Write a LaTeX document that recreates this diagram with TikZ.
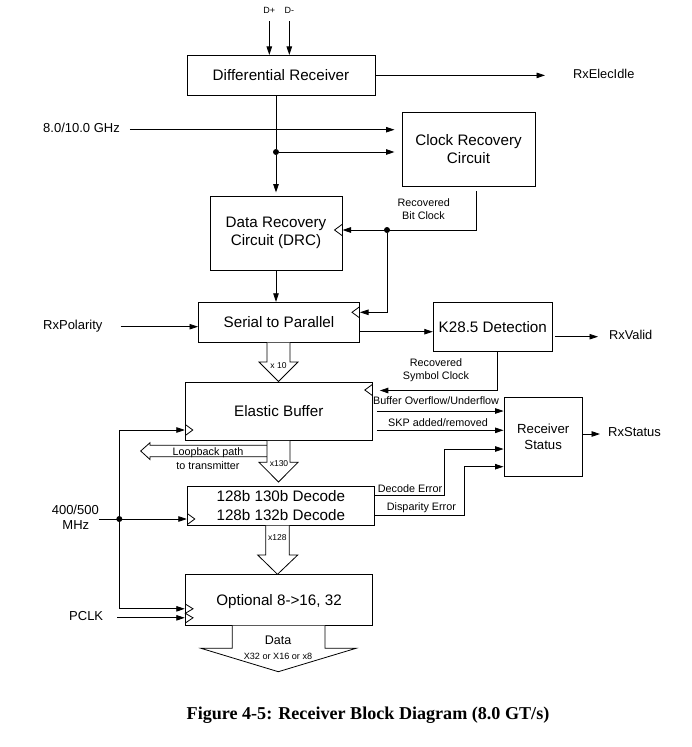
\documentclass[tikz,border=0pt]{standalone}
\usepackage{fontspec}
\setmainfont{Liberation Sans}
\newfontfamily\capfont{Liberation Serif}
\usetikzlibrary{arrows.meta,calc}
\begin{document}
\begin{tikzpicture}[x=1pt,y=-1pt,
  box/.style={draw, line width=1pt, inner sep=0pt, align=center, font=\fontsize{15.2}{18.3}\selectfont},
  conn/.style={line width=0.8pt, -{Triangle[length=8.5pt,width=5.5pt]}},
  wire/.style={line width=0.8pt},
  dotc/.style={circle, fill, inner sep=0pt, minimum size=6pt},
  lbl/.style={font=\fontsize{13}{15.5}\selectfont, inner sep=0pt},
  sml/.style={font=\fontsize{10.8}{13}\selectfont, inner sep=0pt},
  tny/.style={font=\fontsize{8.5}{10}\selectfont, inner sep=0pt},
  fat/.style={draw, line width=0.8pt, fill=white, line join=miter},
  clk/.style={line width=0.8pt},
]
\useasboundingbox (0,0) rectangle (692,747);

% boxes
\node[box, minimum width=188pt, minimum height=40pt] (dr) at (281,75.4) {Differential Receiver};
\node[box, minimum width=133pt, minimum height=74pt] (crc) at (468.5,149) {Clock Recovery\\Circuit};
\node[box, minimum width=132pt, minimum height=74pt] (drc) at (276,233) {Data Recovery\\Circuit (DRC)};
\node[box, minimum width=161pt, minimum height=40.4pt] (s2p) at (279,322.5) {Serial to Parallel};
\node[box, minimum width=119pt, minimum height=49pt] (k28) at (492.8,326.8) {K28.5 Detection};
\node[box, minimum width=187pt, minimum height=58pt] (eb) at (278.8,411.3) {Elastic Buffer};
\node[box, minimum width=78.3pt, minimum height=78.7pt, font=\fontsize{13.2}{16}\selectfont] (rs) at (543.2,436.7) {Receiver\\Status};
\node[box, minimum width=187pt, minimum height=39pt, font=\fontsize{15.2}{19}\selectfont] (dec) at (280.8,505.5) {128b 130b Decode\\128b 132b Decode};
\node[box, minimum width=187.4pt, minimum height=50.7pt, text depth=0pt] (opt) at (279,599.7) {Optional 8->16, 32};

% clock ticks
\draw[clk] (342,224.5) -- (334.5,230) -- (342,235.5);
\draw[clk] (359.5,306.8) -- (352,312.3) -- (359.5,317.8);
\draw[clk] (372.3,384.5) -- (364.8,390) -- (372.3,395.5);
\draw[clk] (185.3,424.5) -- (192.8,430) -- (185.3,435.5);
\draw[clk] (187.3,513.5) -- (194.8,519) -- (187.3,524.5);
\draw[clk] (185.3,604) -- (193,608.8) -- (185.3,613.3) -- (193,617.8) -- (185.3,623);

% inputs D+ D-
\coordinate (dp) at (269.3,21);
\coordinate (dm) at (289.3,21);
\node[tny, font=\fontsize{9}{10}\selectfont, anchor=mid] (ldp) at (269.3,11) {D+};
\node[tny, font=\fontsize{9}{10}\selectfont, anchor=mid] (ldm) at (289.3,11) {D-};
\draw[conn] (dp) -- (dr.north -| dp);
\draw[conn] (dm) -- (dr.north -| dm);

% RxElecIdle
\node[lbl, font=\fontsize{12.8}{15}\selectfont, anchor=mid west] (rxe) at (573,75.4) {RxElecIdle};
\draw[conn] (dr.east) -- ([xshift=-28pt]rxe.mid west);

% GHz
\node[lbl, anchor=mid west] (ghz) at (43,129.7) {8.0/10.0 GHz};
\draw[conn, shorten >=7pt] ([xshift=10pt]ghz.mid east) -- (crc.west |- ghz.mid east);

% DR -> DRC with junction
\node[dotc] (j1) at (276,152) {};
\draw[wire] (dr.south -| j1) -- (j1);
\draw[conn, shorten >=3pt] (j1) -- (drc.north -| j1);
\draw[conn, shorten >=7pt] (j1) -- (crc.west |- j1);

% Recovered bit clock
\coordinate (bc) at (476,191);
\node[dotc] (j2) at (387,230) {};
\draw[conn] (bc) |- (drc.east |- j2);
\draw[conn] (j2) |- (s2p.east |- 0,312.3);
\node[sml, anchor=mid] (lbc1) at (423.8,204) {Recovered};
\node[sml, anchor=mid] (lbc2) at (423.5,217.3) {Bit Clock};

% DRC -> S2P
\draw[conn] (drc.south) -- (s2p.north -| drc.south);

% RxPolarity
\node[lbl, anchor=mid west] (rxp) at (43,326.7) {RxPolarity};
\draw[conn] ([xshift=18pt]rxp.mid east) -- (s2p.west |- rxp.mid east);

% S2P -> K28
\draw[conn] (s2p.east |- 0,331.7) -- (k28.west |- 0,331.7);

% RxValid
\node[lbl, font=\fontsize{12.8}{15}\selectfont, anchor=mid west] (rxv) at (609,336.7) {RxValid};
\draw[conn, shorten <=2pt] (k28.east |- rxv.mid west) -- ([xshift=-11pt]rxv.mid west);

% Recovered symbol clock
\coordinate (sc) at (497.3,390.5);
\draw[conn, shorten >=7pt] (k28.south -| sc) |- (eb.east |- sc);
\node[sml, anchor=mid] (lsc1) at (436,364) {Recovered};
\node[sml, anchor=mid] (lsc2) at (436,377.3) {Symbol Clock};

% EB -> RS
\draw[conn, shorten <=4pt] (eb.east |- 0,411) -- (rs.west |- 0,411);
\draw[conn, shorten <=4pt] (eb.east |- 0,430.3) -- (rs.west |- 0,430.3);
\node[sml, anchor=mid west] (lbo) at (373,402) {Buffer Overflow/Underflow};
\node[sml, anchor=mid west] (lskp) at (388,423.7) {SKP added/removed};

% Decode -> RS
\coordinate (de) at (444.7,449);
\coordinate (dpe) at (464.3,466.7);
\draw[conn] (dec.east |- 0,495) -| (de) -- (rs.west |- de);
\draw[conn] (dec.east |- 0,515.3) -| (dpe) -- (rs.west |- dpe);
\node[sml, anchor=mid west] (lde) at (377.7,490) {Decode Error};
\node[sml, anchor=mid west] (ldpe) at (386.7,508.3) {Disparity Error};

% RxStatus
\node[lbl, anchor=mid west] (rxs) at (608,434) {RxStatus};
\draw[conn] (rs.east |- rxs.mid west) -- ([xshift=-8pt]rxs.mid west);

% clock network
\node[lbl, anchor=mid] (n400) at (75.3,512) {400/500};
\node[lbl, anchor=mid] (nmhz) at (75.8,526.7) {MHz};
\node[dotc] (j3) at (119.3,519) {};
\coordinate (c1) at (119.3,430);
\coordinate (c2) at (119.3,608.8);
\draw[conn] (n400.east |- j3) -- (dec.west |- j3);
\draw[conn] (c1) -- (eb.west |- c1);
\draw[wire] (c1) -- (c2);
\draw[conn] (c2) -- (opt.west |- c2);
\node[lbl, anchor=mid west] (pclk) at (69,617.8) {PCLK};
\draw[conn] ([xshift=14pt]pclk.mid east) -- (opt.west |- pclk.mid east);

% fat arrows
\draw[fat] (267,342.7) -- (267,362) -- (259,362) -- (278.5,381.5) -- (298,362) -- (290,362) -- (290,342.7);
\node[tny, anchor=mid] (lx10) at (278.5,366) {x 10};
\draw[fat] (267,445.3) -- (150,445.3) -- (150,442.7) -- (140.7,451) -- (150,459.5) -- (150,456.7) -- (267,456.7);
\draw[fat] (267,440.8) -- (267,462.3) -- (259,462.3) -- (278.5,482) -- (298,462.3) -- (290,462.3) -- (290,440.8);
\node[tny, anchor=mid] (lx130) at (279,464) {x130};
\node[sml, anchor=mid] (llb1) at (208,453) {Loopback path};
\node[sml, anchor=mid] (llb2) at (208,467) {to transmitter};
\draw[fat] (265.7,525.5) -- (265.7,555) -- (257.7,555) -- (277.5,574.3) -- (297.7,555) -- (289.3,555) -- (289.3,525.5);
\node[tny, anchor=mid] (lx128) at (277.3,537.7) {x128};
\draw[fat] (232.3,625.5) -- (232.3,648.3) -- (201,648.3) -- (278.3,671.7) -- (356,648.3) -- (325,648.3) -- (325,625.5);
\node[lbl, font=\fontsize{12.5}{15}\selectfont, anchor=mid] (ldata) at (278,641.7) {Data};
\node[tny, font=\fontsize{9.1}{10}\selectfont, anchor=mid] (ldx) at (278,656.7) {X32 or X16 or x8};

% caption
\node[font=\capfont\bfseries\fontsize{18.1}{21}\selectfont, inner sep=0pt, anchor=mid] (cap) at (368,717) {Figure 4-5: Receiver Block Diagram (8.0 GT/s)};
\end{tikzpicture}
\end{document}
